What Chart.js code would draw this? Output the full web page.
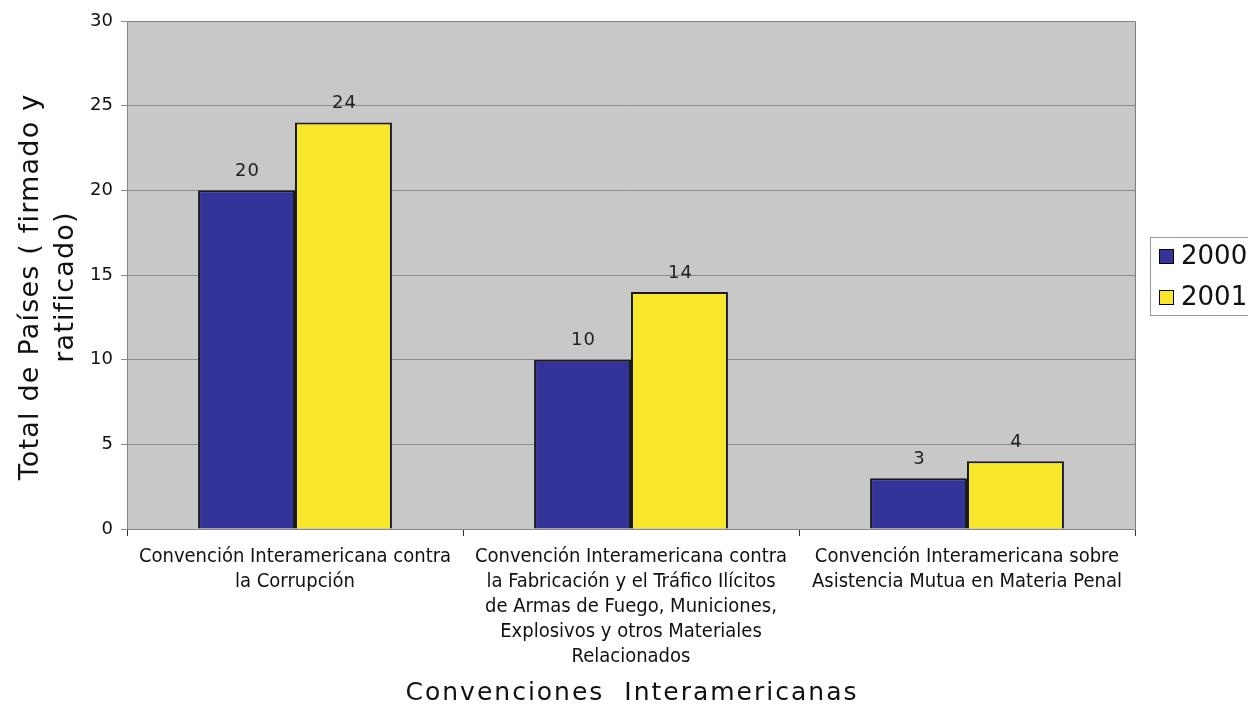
<!DOCTYPE html>
<html>
<head>
<meta charset="utf-8">
<script src="https://cdn.jsdelivr.net/npm/chart.js@4"></script>
<style>
  html, body { margin: 0; padding: 0; background: #fff; overflow: hidden; }
  #wrap { width: 1248px; height: 705px; position: relative; }
</style>
</head>
<body>
<div id="wrap"><canvas id="chart"></canvas></div>
<script>
const categories = [
  ['Convención Interamericana contra', 'la Corrupción'],
  ['Convención Interamericana contra', 'la Fabricación y el Tráfico Ilícitos', 'de Armas de Fuego, Municiones,', 'Explosivos y otros Materiales', 'Relacionados'],
  ['Convención Interamericana sobre', 'Asistencia Mutua en Materia Penal']
];
const seriesNames = ['2000', '2001'];
const values2000 = [20, 10, 3];
const values2001 = [24, 14, 4];
const yTicks = [0, 5, 10, 15, 20, 25, 30];
const xTitle = 'Convenciones  Interamericanas';
const yTitle = ['Total de Países ( firmado y', 'ratificado)'];

const narrow = '"Liberation Sans Narrow", "DejaVu Sans Condensed", sans-serif';
const sans = '"DejaVu Sans", "Liberation Sans", sans-serif';

// grey plot background + border
const plotBg = {
  id: 'plotBg',
  beforeDraw(chart) {
    const { ctx, chartArea: a } = chart;
    ctx.save();
    ctx.fillStyle = '#c8c8c8';
    ctx.fillRect(a.left, a.top, a.right - a.left, a.bottom - a.top);
    ctx.restore();
  },
  afterDatasetsDraw(chart) {
    const { ctx, chartArea: a } = chart;
    ctx.save();
    ctx.strokeStyle = '#808080';
    ctx.lineWidth = 1;
    ctx.beginPath();
    ctx.moveTo(a.left, a.top + 0.5);
    ctx.lineTo(a.right + 0.5, a.top + 0.5);
    ctx.lineTo(a.right + 0.5, a.bottom);
    ctx.stroke();
    ctx.restore();
  }
};

// value labels above bars
const barValues = {
  id: 'barValues',
  afterDatasetsDraw(chart) {
    const { ctx } = chart;
    ctx.save();
    ctx.font = '18px ' + sans;
    ctx.letterSpacing = '1px';
    ctx.fillStyle = '#222';
    ctx.textAlign = 'center';
    ctx.textBaseline = 'bottom';
    chart.data.datasets.forEach((ds, i) => {
      chart.getDatasetMeta(i).data.forEach((bar, j) => {
        ctx.fillText(ds.data[j], bar.x + 1, bar.y - 10);
      });
    });
    ctx.restore();
  }
};

// axis titles with wide letter spacing
const axisTitles = {
  id: 'axisTitles',
  afterDraw(chart) {
    const { ctx, chartArea: a } = chart;
    ctx.save();
    ctx.fillStyle = '#111';
    ctx.textAlign = 'center';
    ctx.textBaseline = 'middle';
    ctx.font = '25px ' + sans;
    ctx.letterSpacing = '2px';
    ctx.fillText(xTitle, (a.left + a.right) / 2 + 1, 693);
    ctx.translate(0, (a.top + a.bottom) / 2 + 12);
    ctx.rotate(-Math.PI / 2);
    ctx.font = '27px ' + sans;
    ctx.letterSpacing = '1.2px';
    yTitle.forEach((line, i) => ctx.fillText(line, 0, 31 + i * 35));
    ctx.restore();
  }
};

// framed legend on the right, cut by the window edge
const sideLegend = {
  id: 'sideLegend',
  afterDraw(chart) {
    const { ctx } = chart;
    const x = 1150, y = 237, w = 120, h = 78;
    ctx.save();
    ctx.strokeStyle = '#999';
    ctx.lineWidth = 1;
    ctx.strokeRect(x + 0.5, y + 0.5, w, h);
    ctx.font = '26px ' + sans;
    ctx.textBaseline = 'middle';
    chart.data.datasets.forEach((ds, i) => {
      const cy = y + 19 + i * 41;
      ctx.fillStyle = ds.backgroundColor;
      ctx.fillRect(x + 9, cy - 7, 14, 14);
      ctx.strokeStyle = '#000';
      ctx.strokeRect(x + 9.5, cy - 6.5, 14, 14);
      ctx.fillStyle = '#111';
      ctx.fillText(ds.label, x + 31, cy + 1);
    });
    ctx.restore();
  }
};

new Chart(document.getElementById('chart'), {
  type: 'bar',
  data: {
    labels: categories,
    datasets: [
      { label: seriesNames[0], data: values2000, backgroundColor: '#333399', borderColor: '#1a1a1a', borderWidth: 2 },
      { label: seriesNames[1], data: values2001, backgroundColor: '#f8e72b', borderColor: '#1a1a1a', borderWidth: 2 }
    ]
  },
  options: {
    responsive: true,
    maintainAspectRatio: false,
    animation: false,
    layout: { padding: { top: 21, right: 113, left: 10, bottom: 0 } },
    datasets: { bar: { barPercentage: 1, categoryPercentage: 0.577 } },
    plugins: { legend: { display: false }, tooltip: { enabled: false } },
    scales: {
      x: {
        grid: { drawOnChartArea: false, offset: true, color: '#333', tickLength: 7 },
        border: { color: '#888' },
        ticks: {
          color: '#111',
          font: { family: narrow, size: 20, lineHeight: 1.25 },
          padding: 8,
          maxRotation: 0,
          autoSkip: false
        },
        afterFit(scale) { scale.height = 176; }
      },
      y: {
        min: 0, max: 30,
        afterBuildTicks(scale) { scale.ticks = yTicks.map(v => ({ value: v })); },
        grid: { color: '#8c8c8c', tickLength: 6, drawTicks: true },
        border: { color: '#888' },
        ticks: { color: '#111', font: { family: sans, size: 18 }, padding: 8 },
        afterFit(scale) { scale.width = 117; }
      }
    }
  },
  plugins: [plotBg, barValues, axisTitles, sideLegend]
});
</script>
</body>
</html>
